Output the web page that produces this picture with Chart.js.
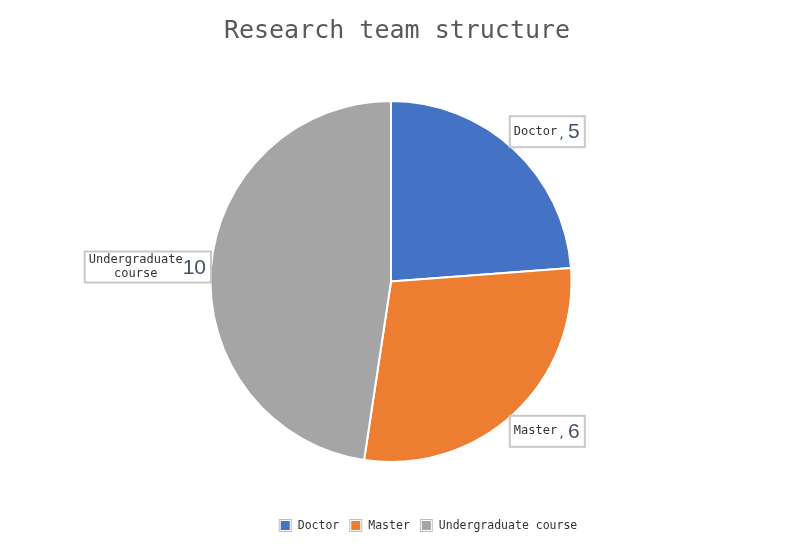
<!DOCTYPE html>
<html>
<head>
<meta charset="utf-8">
<script src="https://cdn.jsdelivr.net/npm/chart.js@4/dist/chart.umd.min.js"></script>
<style>
body { margin: 0; background: #fff; }
</style>
</head>
<body>
<canvas id="grafico" width="800" height="557"></canvas>
<script>
var categorias = ['Doctor', 'Master', 'Undergraduate course'];
var linhasRotulo = [['Doctor'], ['Master'], ['Undergraduate', 'course']];
var valores = [5, 6, 10];
var cores = ['#4472C4', '#ED7D31', '#A5A5A5'];
var titulo = 'Research team structure';

var mono = '"DejaVu Sans Mono", "Liberation Mono", monospace';

// titulo, rotulos e legenda desenhados a mao
var extras = {
    id: 'extras',
    afterDraw: function (chart) {
        var c = chart.ctx;
        c.save();

        // titulo
        c.fillStyle = '#595959';
        c.font = '25px ' + mono;
        c.textAlign = 'center';
        c.textBaseline = 'middle';
        c.fillText(titulo, 397, 31);

        // rotulos de dados
        var arcos = chart.getDatasetMeta(0).data;
        arcos.forEach(function (arco, i) {
            var meio = (arco.startAngle + arco.endAngle) / 2;
            var px = arco.x + Math.cos(meio) * arco.outerRadius;
            var py = arco.y + Math.sin(meio) * arco.outerRadius;
            var linhas = linhasRotulo[i];
            var numero = String(valores[i]);
            var virgula = linhas.length == 1 ? ',' : '';

            c.font = '12px ' + mono;
            var wTxt = 0;
            linhas.forEach(function (l) { wTxt = Math.max(wTxt, c.measureText(l).width); });
            var wVir = virgula ? 11 : 0;
            c.font = '21px "Liberation Sans", Arial, sans-serif';
            var wNum = c.measureText(numero).width;

            var w = 4 + wTxt + wVir + wNum + 5;
            var h = 31;
            var bx, by, cx, cy;
            if (px > arco.x) {
                bx = px - 4;
                if (py < arco.y) { by = py - 2 - h; cx = bx + 6; cy = by + h; }
                else { by = py + 2; cx = bx + 6; cy = by; }
            } else {
                bx = px - w;
                by = py - 1 - h / 2;
                cx = bx + w; cy = by + h / 2;
            }

            // ponteiro
            c.strokeStyle = '#bfbfbf';
            c.lineWidth = 1;
            c.beginPath();
            c.moveTo(cx, cy);
            c.lineTo(px, py);
            c.stroke();

            c.fillStyle = '#ffffff';
            c.fillRect(bx, by, w, h);
            c.lineWidth = 2;
            c.strokeStyle = '#c8c8c8';
            c.strokeRect(bx, by, w, h);

            var meioY = by + h / 2;
            c.fillStyle = '#333333';
            c.font = '12px ' + mono;
            c.textAlign = 'center';
            c.textBaseline = 'middle';
            if (linhas.length == 1) {
                c.fillText(linhas[0], bx + 4 + wTxt / 2, meioY);
                c.textAlign = 'left';
                c.fillStyle = '#44546A';
                c.fillText(virgula, bx + 4 + wTxt + 1, meioY + 3);
            } else {
                c.fillText(linhas[0], bx + 4 + wTxt / 2, meioY - 7);
                c.fillText(linhas[1], bx + 4 + wTxt / 2, meioY + 7);
            }
            c.textAlign = 'left';
            c.fillStyle = '#44546A';
            c.font = '21px "Liberation Sans", Arial, sans-serif';
            c.fillText(numero, bx + 4 + wTxt + wVir, meioY + 1);
        });

        // legenda
        c.font = '11.5px ' + mono;
        c.textAlign = 'left';
        c.textBaseline = 'middle';
        var total = 0;
        var larguras = categorias.map(function (n) {
            var lw = 12 + 7 + c.measureText(n).width;
            total += lw;
            return lw;
        });
        total += 10 * (categorias.length - 1);
        var x = 428 - total / 2;
        var y = 526;
        categorias.forEach(function (n, i) {
            c.strokeStyle = '#bfbfbf';
            c.lineWidth = 1;
            c.strokeRect(x + 0.5, y - 6.5, 12, 12);
            c.fillStyle = cores[i];
            c.fillRect(x + 2, y - 5, 9, 9);
            c.fillStyle = '#333333';
            c.fillText(n, x + 19, y);
            x += larguras[i] + 10;
        });

        c.restore();
    }
};

var ctx = document.getElementById('grafico');

var data = {
    labels: categorias,
    datasets: [{
        data: valores,
        backgroundColor: cores,
        borderColor: '#ffffff',
        borderWidth: 2
    }]
};

var config = {
    type: 'pie',
    data,
    options: {
        responsive: false,
        animation: false,
        devicePixelRatio: 1,
        layout: {
            padding: { top: 100, bottom: 94, left: 0, right: 18 }
        },
        plugins: {
            legend: { display: false },
            title: { display: false },
            tooltip: { enabled: false }
        }
    },
    plugins: [extras]
};

new Chart(ctx, config);
</script>
</body>
</html>
